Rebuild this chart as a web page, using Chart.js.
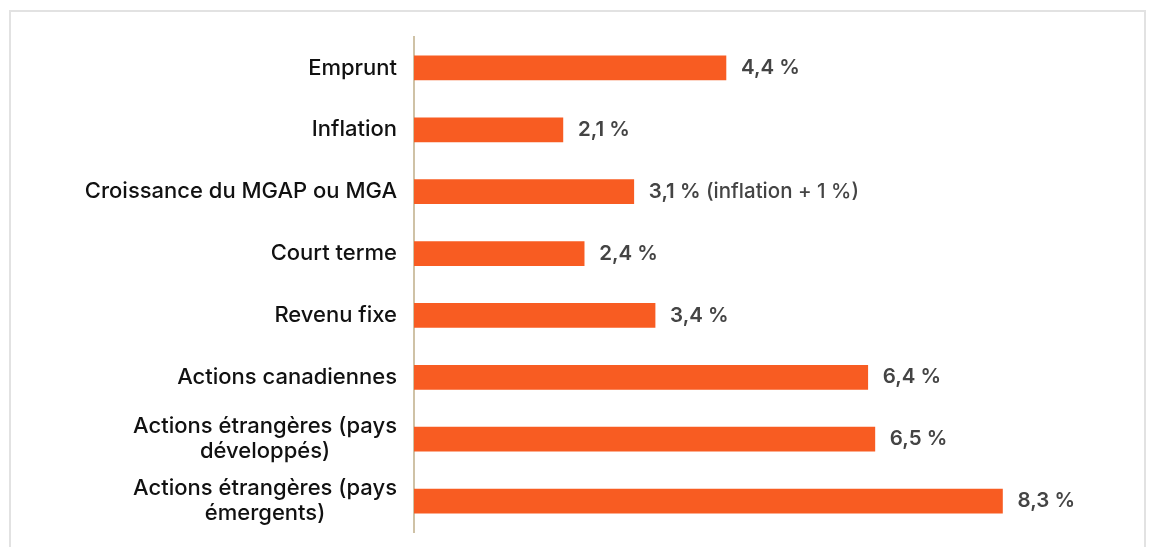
<!DOCTYPE html>
<html>
<head>
<meta charset="utf-8">
<script src="https://cdn.jsdelivr.net/npm/chart.js@4.4.0/dist/chart.umd.min.js"></script>
<style>
  html, body { margin: 0; padding: 0; background: #fff; overflow: hidden; }
  #frame {
    position: absolute; left: 9px; top: 10px; width: 1137px; height: 600px;
    border: 2px solid #e2e2e2; box-sizing: border-box;
  }
  #wrap { position: absolute; left: 0; top: 0; width: 1150px; height: 547px; }
</style>
</head>
<body>
<div id="frame"></div>
<div id="wrap"><canvas id="rateChart"></canvas></div>
<script>
// données du graphique
const categories = [
    'Emprunt',
    'Inflation',
    'Croissance du MGAP ou MGA',
    'Court terme',
    'Revenu fixe',
    'Actions canadiennes',
    ['Actions étrangères (pays', 'développés)'],
    ['Actions étrangères (pays', 'émergents)']
];
const rates = [4.4, 2.1, 3.1, 2.4, 3.4, 6.4, 6.5, 8.3];
const rateNotes = ['', '', ' (inflation + 1 %)', '', '', '', '', ''];

const FONT = 'Inter, "Noto Sans", sans-serif';

function fmt(v) {
    return v.toFixed(1).replace('.', ',') + ' %';
}

// étiquettes de catégories (centrées ligne par ligne) et valeurs
const labelPlugin = {
    id: 'labelPlugin',
    afterDatasetsDraw(chart) {
        const ctx = chart.ctx;
        const yScale = chart.scales.y;
        const meta = chart.getDatasetMeta(0);
        ctx.save();
        ctx.textBaseline = 'middle';
        const rightEdge = chart.chartArea.left - 17;
        categories.forEach(function(cat, i) {
            const y = yScale.getPixelForValue(i);
            const lines = Array.isArray(cat) ? cat : [cat];
            ctx.font = '500 22px ' + FONT;
            ctx.fillStyle = '#111';
            const maxW = Math.max.apply(null, lines.map(l => ctx.measureText(l).width));
            const cx = rightEdge - maxW / 2;
            const lh = 25;
            ctx.textAlign = 'center';
            lines.forEach(function(l, k) {
                ctx.fillText(l, cx, y + (k - (lines.length - 1) / 2) * lh);
            });
        });
        meta.data.forEach(function(bar, i) {
            ctx.font = '600 20.5px ' + FONT;
            ctx.fillStyle = '#444';
            ctx.textAlign = 'left';
            ctx.fillText(fmt(rates[i]), bar.x + 15, bar.y);
            if (rateNotes[i]) {
                const w = ctx.measureText(fmt(rates[i])).width;
                ctx.font = '500 20.5px ' + FONT;
                ctx.fillText(rateNotes[i], bar.x + 15 + w, bar.y);
            }
        });
        ctx.restore();
    }
};

document.addEventListener('DOMContentLoaded', function() {
    const ctx = document.getElementById('rateChart').getContext('2d');
    new Chart(ctx, {
        type: 'bar',
        data: {
            labels: categories,
            datasets: [{
                data: rates,
                backgroundColor: '#F85C22',
                borderWidth: 0,
                barThickness: 24
            }]
        },
        options: {
            indexAxis: 'y',
            responsive: true,
            maintainAspectRatio: false,
            animation: false,
            layout: { padding: { left: 414, right: 27, top: 37, bottom: 15 } },
            scales: {
                x: {
                    min: 0, max: 10,
                    display: false
                },
                y: {
                    ticks: { display: false },
                    grid: { display: false, drawTicks: false },
                    border: { display: true, color: '#cfc2a6', width: 2 }
                }
            },
            plugins: {
                legend: { display: false },
                tooltip: { enabled: false }
            }
        },
        plugins: [labelPlugin]
    });
});
</script>
</body>
</html>
